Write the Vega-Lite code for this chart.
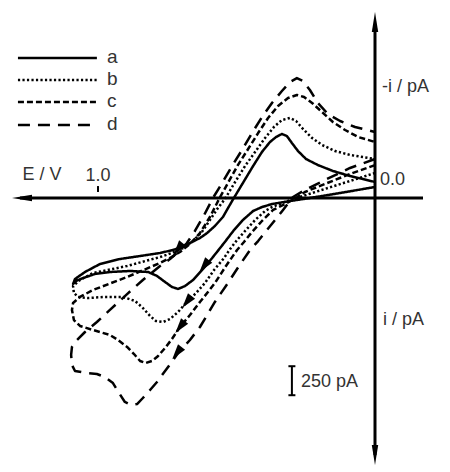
{
"$schema": "https://vega.github.io/schema/vega-lite/v6.json",
"width": 450, "height": 472, "padding": 0, "autosize": {"type": "none"},
"background": "white",
"config": {"view": {"stroke": null}},
"encoding": {
  "x": {"field": "E", "type": "quantitative", "scale": {"domain": [-0.27076, 1.35379], "reverse": true, "nice": false, "zero": false}, "axis": null},
  "y": {"field": "i", "type": "quantitative", "scale": {"domain": [-1706.8, 2361.9], "reverse": true, "nice": false, "zero": false}, "axis": null}
},
"datasets": {
"cv": [
{"c":"a","E":0,"i":-95},{"c":"a","E":0.126,"i":-43},{"c":"a","E":0.235,"i":0},{"c":"a","E":0.307,"i":26},{"c":"a","E":0.372,"i":52},{"c":"a","E":0.408,"i":78},{"c":"a","E":0.44,"i":112},{"c":"a","E":0.477,"i":190},{"c":"a","E":0.509,"i":276},{"c":"a","E":0.542,"i":379},{"c":"a","E":0.585,"i":509},{"c":"a","E":0.621,"i":612},{"c":"a","E":0.657,"i":707},{"c":"a","E":0.686,"i":759},{"c":"a","E":0.711,"i":784},{"c":"a","E":0.733,"i":767},{"c":"a","E":0.758,"i":724},{"c":"a","E":0.787,"i":672},{"c":"a","E":0.819,"i":638},{"c":"a","E":0.884,"i":629},{"c":"a","E":0.957,"i":638},{"c":"a","E":1.011,"i":655},{"c":"a","E":1.054,"i":690},{"c":"a","E":1.079,"i":715},{"c":"a","E":1.09,"i":741},
{"c":"a","E":1.083,"i":698},{"c":"a","E":1.047,"i":638},{"c":"a","E":0.993,"i":569},{"c":"a","E":0.921,"i":526},{"c":"a","E":0.848,"i":500},{"c":"a","E":0.776,"i":474},{"c":"a","E":0.729,"i":448},{"c":"a","E":0.697,"i":422},{"c":"a","E":0.668,"i":388},{"c":"a","E":0.632,"i":345},{"c":"a","E":0.606,"i":302},{"c":"a","E":0.578,"i":241},{"c":"a","E":0.549,"i":164},{"c":"a","E":0.516,"i":26},{"c":"a","E":0.477,"i":-129},{"c":"a","E":0.44,"i":-276},{"c":"a","E":0.408,"i":-397},{"c":"a","E":0.379,"i":-483},{"c":"a","E":0.357,"i":-526},{"c":"a","E":0.336,"i":-552},{"c":"a","E":0.318,"i":-534},{"c":"a","E":0.3,"i":-474},{"c":"a","E":0.278,"i":-405},{"c":"a","E":0.249,"i":-336},{"c":"a","E":0.206,"i":-284},{"c":"a","E":0.152,"i":-233},{"c":"a","E":0.09,"i":-190},{"c":"a","E":0,"i":-138},
{"c":"b","E":0,"i":-216},{"c":"b","E":0.09,"i":-147},{"c":"b","E":0.181,"i":-78},{"c":"b","E":0.271,"i":-9},{"c":"b","E":0.325,"i":34},{"c":"b","E":0.372,"i":78},{"c":"b","E":0.397,"i":112},{"c":"b","E":0.433,"i":190},{"c":"b","E":0.466,"i":276},{"c":"b","E":0.498,"i":362},{"c":"b","E":0.523,"i":440},{"c":"b","E":0.545,"i":517},{"c":"b","E":0.581,"i":621},{"c":"b","E":0.614,"i":733},{"c":"b","E":0.646,"i":819},{"c":"b","E":0.679,"i":896},{"c":"b","E":0.711,"i":983},{"c":"b","E":0.74,"i":1043},{"c":"b","E":0.765,"i":1069},{"c":"b","E":0.791,"i":1060},{"c":"b","E":0.812,"i":1017},{"c":"b","E":0.838,"i":948},{"c":"b","E":0.866,"i":888},{"c":"b","E":0.91,"i":853},{"c":"b","E":0.975,"i":853},{"c":"b","E":1.036,"i":862},{"c":"b","E":1.072,"i":853},{"c":"b","E":1.087,"i":819},{"c":"b","E":1.09,"i":759},
{"c":"b","E":1.065,"i":707},{"c":"b","E":1.018,"i":647},{"c":"b","E":0.895,"i":586},{"c":"b","E":0.776,"i":509},{"c":"b","E":0.733,"i":474},{"c":"b","E":0.693,"i":431},{"c":"b","E":0.657,"i":371},{"c":"b","E":0.625,"i":293},{"c":"b","E":0.596,"i":190},{"c":"b","E":0.567,"i":86},{"c":"b","E":0.542,"i":9},{"c":"b","E":0.505,"i":-138},{"c":"b","E":0.469,"i":-276},{"c":"b","E":0.433,"i":-397},{"c":"b","E":0.397,"i":-517},{"c":"b","E":0.365,"i":-612},{"c":"b","E":0.336,"i":-672},{"c":"b","E":0.307,"i":-690},{"c":"b","E":0.285,"i":-664},{"c":"b","E":0.26,"i":-595},{"c":"b","E":0.227,"i":-517},{"c":"b","E":0.191,"i":-457},{"c":"b","E":0.144,"i":-405},{"c":"b","E":0.09,"i":-371},{"c":"b","E":0,"i":-336},
{"c":"c","E":0,"i":-284},{"c":"c","E":0.09,"i":-207},{"c":"c","E":0.181,"i":-121},{"c":"c","E":0.253,"i":-52},{"c":"c","E":0.285,"i":0},{"c":"c","E":0.325,"i":52},{"c":"c","E":0.368,"i":103},{"c":"c","E":0.408,"i":198},{"c":"c","E":0.444,"i":293},{"c":"c","E":0.473,"i":379},{"c":"c","E":0.498,"i":448},{"c":"c","E":0.538,"i":586},{"c":"c","E":0.578,"i":733},{"c":"c","E":0.606,"i":819},{"c":"c","E":0.632,"i":896},{"c":"c","E":0.668,"i":1009},{"c":"c","E":0.704,"i":1112},{"c":"c","E":0.733,"i":1215},{"c":"c","E":0.758,"i":1293},{"c":"c","E":0.783,"i":1362},{"c":"c","E":0.805,"i":1405},{"c":"c","E":0.827,"i":1422},{"c":"c","E":0.848,"i":1405},{"c":"c","E":0.87,"i":1345},{"c":"c","E":0.895,"i":1284},{"c":"c","E":0.928,"i":1224},{"c":"c","E":0.957,"i":1181},{"c":"c","E":1.018,"i":1138},{"c":"c","E":1.065,"i":1103},{"c":"c","E":1.087,"i":1052},{"c":"c","E":1.094,"i":965},{"c":"c","E":1.09,"i":905},
{"c":"c","E":1.065,"i":853},{"c":"c","E":1.018,"i":793},{"c":"c","E":0.895,"i":681},{"c":"c","E":0.776,"i":560},{"c":"c","E":0.74,"i":517},{"c":"c","E":0.704,"i":465},{"c":"c","E":0.668,"i":397},{"c":"c","E":0.632,"i":302},{"c":"c","E":0.596,"i":164},{"c":"c","E":0.563,"i":9},{"c":"c","E":0.531,"i":-129},{"c":"c","E":0.495,"i":-284},{"c":"c","E":0.458,"i":-422},{"c":"c","E":0.422,"i":-560},{"c":"c","E":0.386,"i":-690},{"c":"c","E":0.35,"i":-793},{"c":"c","E":0.314,"i":-862},{"c":"c","E":0.282,"i":-888},{"c":"c","E":0.256,"i":-871},{"c":"c","E":0.227,"i":-819},{"c":"c","E":0.191,"i":-741},{"c":"c","E":0.152,"i":-655},{"c":"c","E":0.108,"i":-586},{"c":"c","E":0.061,"i":-526},{"c":"c","E":0,"i":-483},
{"c":"d","E":0,"i":-336},{"c":"d","E":0.09,"i":-259},{"c":"d","E":0.181,"i":-155},{"c":"d","E":0.253,"i":-69},{"c":"d","E":0.296,"i":-9},{"c":"d","E":0.332,"i":103},{"c":"d","E":0.361,"i":190},{"c":"d","E":0.39,"i":276},{"c":"d","E":0.422,"i":371},{"c":"d","E":0.451,"i":448},{"c":"d","E":0.491,"i":586},{"c":"d","E":0.531,"i":733},{"c":"d","E":0.578,"i":896},{"c":"d","E":0.606,"i":1009},{"c":"d","E":0.632,"i":1112},{"c":"d","E":0.668,"i":1224},{"c":"d","E":0.711,"i":1336},{"c":"d","E":0.747,"i":1457},{"c":"d","E":0.787,"i":1586},{"c":"d","E":0.812,"i":1655},{"c":"d","E":0.838,"i":1724},{"c":"d","E":0.859,"i":1776},{"c":"d","E":0.881,"i":1784},{"c":"d","E":0.903,"i":1758},{"c":"d","E":0.924,"i":1681},{"c":"d","E":0.946,"i":1595},{"c":"d","E":0.975,"i":1543},{"c":"d","E":1.004,"i":1517},{"c":"d","E":1.04,"i":1509},{"c":"d","E":1.083,"i":1491},{"c":"d","E":1.094,"i":1440},{"c":"d","E":1.097,"i":1353},{"c":"d","E":1.094,"i":1284},
{"c":"d","E":1.076,"i":1224},{"c":"d","E":1.047,"i":1155},{"c":"d","E":1.004,"i":1069},{"c":"d","E":0.957,"i":965},{"c":"d","E":0.895,"i":828},{"c":"d","E":0.838,"i":707},{"c":"d","E":0.776,"i":586},{"c":"d","E":0.74,"i":526},{"c":"d","E":0.715,"i":474},{"c":"d","E":0.679,"i":388},{"c":"d","E":0.65,"i":284},{"c":"d","E":0.617,"i":147},{"c":"d","E":0.585,"i":0},{"c":"d","E":0.552,"i":-129},{"c":"d","E":0.516,"i":-276},{"c":"d","E":0.48,"i":-414},{"c":"d","E":0.444,"i":-560},{"c":"d","E":0.408,"i":-698},{"c":"d","E":0.372,"i":-819},{"c":"d","E":0.336,"i":-922},{"c":"d","E":0.307,"i":-1000},{"c":"d","E":0.282,"i":-1034},{"c":"d","E":0.26,"i":-1009},{"c":"d","E":0.235,"i":-931},{"c":"d","E":0.206,"i":-819},{"c":"d","E":0.17,"i":-724},{"c":"d","E":0.126,"i":-664},{"c":"d","E":0.072,"i":-612},{"c":"d","E":0,"i":-569}
],
"leg": [
{"c":"a","E":1.289,"i":-1207},{"c":"a","E":1.004,"i":-1207},
{"c":"b","E":1.289,"i":-1017},{"c":"b","E":1.004,"i":-1017},
{"c":"c","E":1.289,"i":-828},{"c":"c","E":1.004,"i":-828},
{"c":"d","E":1.289,"i":-629},{"c":"d","E":1.004,"i":-629}
],
"legtext": [
{"t":"a","E":0.9675,"i":-1215},{"t":"b","E":0.9675,"i":-1026},{"t":"c","E":0.9675,"i":-836},{"t":"d","E":0.9675,"i":-638}
],
"axes": [
{"E":1.2816,"i":0,"E2":-0.1733,"i2":0},
{"E":0,"i":-1491,"E2":0,"i2":2215}
],
"thin": [
{"E":1.0,"i":-103,"E2":1.0,"i2":-52},
{"E":0.30,"i":1450,"E2":0.30,"i2":1700},
{"E":0.3126,"i":1450,"E2":0.2874,"i2":1450},
{"E":0.3126,"i":1700,"E2":0.2874,"i2":1700}
],
"heads": [
{"k":"left","E":1.2744,"i":0},{"k":"up","E":0,"i":-1517},{"k":"down","E":0,"i":2215}
],
"sweep": [
{"c":"a","E":0.617,"i":586},{"c":"b","E":0.679,"i":896},{"c":"c","E":0.704,"i":1112},{"c":"d","E":0.715,"i":1336},{"c":"a","E":0.711,"i":440}
],
"ctext": [
{"t":"E / V","E":1.2022,"i":-198},{"t":"1.0","E":1.0,"i":-190}
],
"ltext": [
{"t":"0.0","E":-0.018,"i":-155},{"t":"-i / pA","E":-0.0253,"i":-957},{"t":"i / pA","E":-0.0289,"i":1052},{"t":"250 pA","E":0.267,"i":1586}
]
},
"layer": [
{"data": {"name": "axes"}, "mark": {"type": "rule", "strokeWidth": 3, "color": "black"},
 "encoding": {"x2": {"field": "E2"}, "y2": {"field": "i2"}}},
{"data": {"name": "thin"}, "mark": {"type": "rule", "strokeWidth": 2, "color": "black"},
 "encoding": {"x2": {"field": "E2"}, "y2": {"field": "i2"}}},
{"data": {"name": "heads"}, "mark": {"type": "point", "filled": true, "size": 400, "opacity": 1, "color": "black"},
 "encoding": {"shape": {"field": "k", "type": "nominal", "legend": null,
   "scale": {"domain": ["left", "up", "down"], "range": ["M-1,0L1,-0.32L1,0.32Z", "M0,-1L-0.32,1L0.32,1Z", "M0,1L-0.32,-1L0.32,-1Z"]}}}},
{"data": {"name": "cv"}, "mark": {"type": "line", "strokeWidth": 2.5, "color": "black", "strokeCap": "butt", "strokeJoin": "round"},
 "encoding": {"detail": {"field": "c"}, "order": {"value": null},
   "strokeDash": {"field": "c", "type": "nominal", "legend": null, "scale": {"domain": ["a", "b", "c", "d"], "range": [[1, 0], [2.2, 2.3], [6, 3], [12, 8]]}}}},
{"data": {"name": "leg"}, "mark": {"type": "line", "strokeWidth": 2.5, "color": "black", "strokeCap": "butt"},
 "encoding": {"detail": {"field": "c"}, "order": {"value": null},
   "strokeDash": {"field": "c", "type": "nominal", "legend": null, "scale": {"domain": ["a", "b", "c", "d"], "range": [[1, 0], [2.2, 2.3], [6, 3], [12, 8]]}}}},
{"data": {"name": "sweep"}, "mark": {"type": "point", "filled": true, "size": 225, "opacity": 1, "color": "black", "shape": "M0,1L-0.6,-1L0.6,-1Z", "angle": 38}},
{"data": {"name": "legtext"}, "mark": {"type": "text", "font": "Liberation Sans", "fontSize": 19, "color": "#333", "align": "left", "baseline": "middle"},
 "encoding": {"text": {"field": "t"}}},
{"data": {"name": "ctext"}, "mark": {"type": "text", "font": "Liberation Sans", "fontSize": 18, "color": "#333", "align": "center", "baseline": "middle"},
 "encoding": {"text": {"field": "t"}}},
{"data": {"name": "ltext"}, "mark": {"type": "text", "font": "Liberation Sans", "fontSize": 18, "color": "#333", "align": "left", "baseline": "middle"},
 "encoding": {"text": {"field": "t"}}}
]
}
